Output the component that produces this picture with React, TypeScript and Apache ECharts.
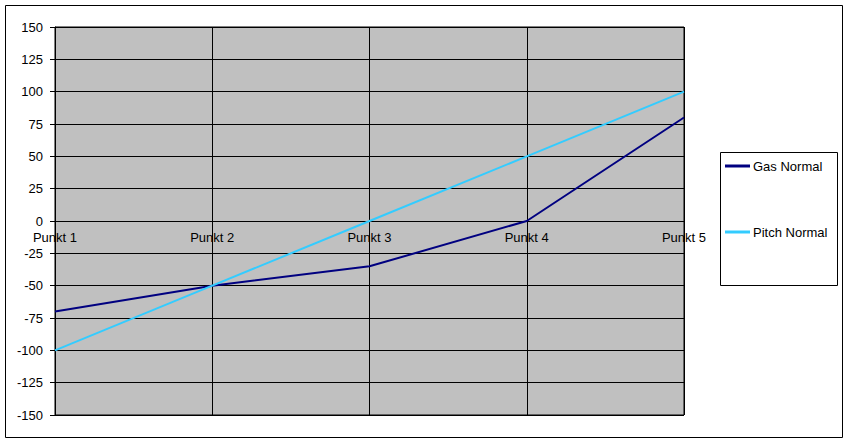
import React, { useEffect, useRef } from "react";
import * as echarts from "echarts";

const categories = ["Punkt 1", "Punkt 2", "Punkt 3", "Punkt 4", "Punkt 5"];
const gasNormal = [-70, -50, -35, 0, 80];
const pitchNormal = [-100, -50, 0, 50, 100];
const seriesNames = ["Gas Normal", "Pitch Normal"];

export default function App() {
  const ref = useRef<HTMLDivElement>(null);
  useEffect(() => {
    if (!ref.current) return;
    const chart = echarts.init(ref.current, null, { renderer: "svg" });
    const font = { fontFamily: "Liberation Sans, Arial, sans-serif", fontSize: 13, color: "#000" };
    chart.setOption({
      animation: false,
      backgroundColor: "#fff",
      grid: {
        left: 55,
        top: 27,
        right: 165,
        bottom: 28,
        show: true,
        backgroundColor: "#C0C0C0",
        borderColor: "#000",
        borderWidth: 1,
      },
      graphic: [
        {
          type: "rect",
          shape: { x: 5.5, y: 5.5, width: 837, height: 432 },
          style: { fill: "none", stroke: "#000", lineWidth: 1 },
          silent: true,
        },
        {
          type: "rect",
          shape: { x: 720.5, y: 152.5, width: 117, height: 133 },
          style: { fill: "#fff", stroke: "#000", lineWidth: 1 },
          silent: true,
          z: -1,
        },
      ],
      legend: {
        orient: "vertical",
        left: 725,
        top: 159,
        padding: 0,
        itemWidth: 25,
        itemHeight: 3,
        itemGap: 52,
        icon: "rect",
        data: seriesNames,
        textStyle: { ...font, lineHeight: 14, padding: [0, 0, 0, -2] },
      },
      xAxis: {
        type: "category",
        data: categories,
        boundaryGap: false,
        offset: -194,
        axisLine: { onZero: false, lineStyle: { color: "#000", width: 1 } },
        axisTick: { show: false },
        axisLabel: { ...font, margin: 10 },
        splitLine: { show: true, lineStyle: { color: "#000", width: 1 } },
      },
      yAxis: {
        type: "value",
        min: -150,
        max: 150,
        interval: 25,
        axisLine: { show: true, onZero: false, lineStyle: { color: "#000", width: 1 } },
        axisTick: { show: true, length: 5, lineStyle: { color: "#000" } },
        axisLabel: { ...font, margin: 12 },
        splitLine: { show: true, lineStyle: { color: "#000", width: 1 } },
      },
      series: [
        {
          name: seriesNames[0],
          type: "line",
          data: gasNormal,
          symbol: "none",
          lineStyle: { color: "#000080", width: 2 },
          itemStyle: { color: "#000080" },
        },
        {
          name: seriesNames[1],
          type: "line",
          data: pitchNormal,
          symbol: "none",
          lineStyle: { color: "#33CCFF", width: 2 },
          itemStyle: { color: "#33CCFF" },
        },
      ],
    });
    return () => chart.dispose();
  }, []);
  return (
    <div
      ref={ref}
      style={{ position: "fixed", left: 0, top: 0, width: 849, height: 443 }}
    />
  );
}
